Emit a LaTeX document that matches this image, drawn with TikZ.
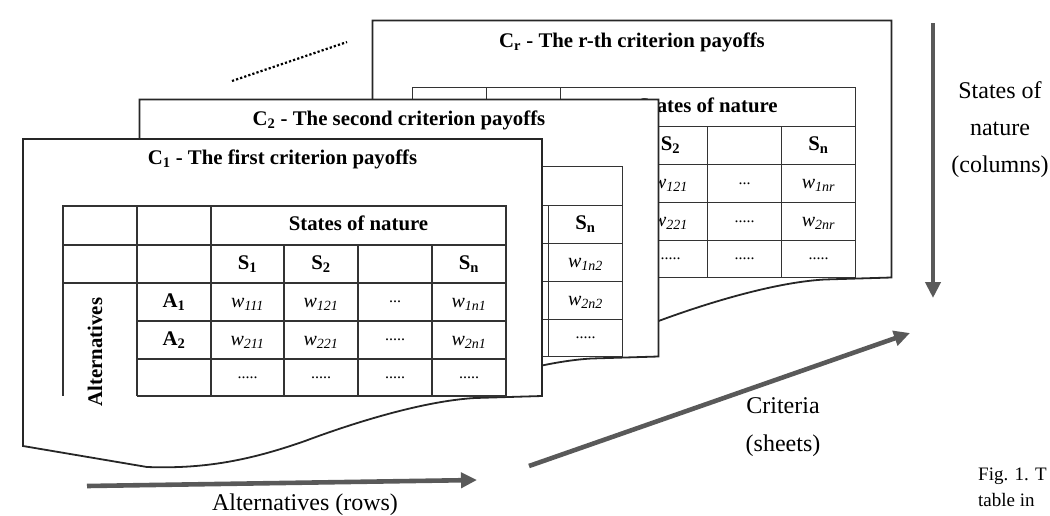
\documentclass[tikz,border=0pt]{standalone}
\usepackage{fontspec}
\setmainfont{Liberation Serif}
\usetikzlibrary{positioning,arrows.meta}

\tikzset{
  sheet/.style={draw=black!85, line width=1.8pt, fill=white},
  tablegrid/.style={draw=black!80, line width=1.2pt},
  sheettitle/.style={font=\fontsize{20.8}{25}\selectfont\bfseries, inner sep=0pt},
  headcell/.style={font=\fontsize{20.8}{25}\selectfont\bfseries, inner sep=0pt, text height=14pt, text depth=4pt},
  wcell/.style={font=\fontsize{20}{24}\selectfont\itshape, inner sep=0pt, text height=14pt, text depth=4pt},
  dotcell/.style={font=\fontsize{16}{20}\selectfont, inner sep=0pt},
  axistext/.style={font=\fontsize{24}{29}\selectfont, inner sep=0pt, anchor=base},
  captext/.style={font=\fontsize{19}{24}\selectfont, inner sep=0pt, anchor=base west},
  bigarrow/.style={draw=black!65, line width=4.6pt, -{Triangle[length=16pt, width=15pt]}},
  dotline/.style={line width=2.2pt, dash pattern=on 2.2pt off 2.1pt},
}

% one sheet of paper, top left corner at (0,0)
\newcommand{\sheetoutline}{%
  \draw[sheet] (0,0) -- (519,0) -- (519,257) -- (452,259)
    .. controls (400,262) and (330,284) .. (282,302)
    .. controls (225,322) and (180,330) .. (124,328)
    -- (0,307) -- cycle;}
% the payoff table on it
\newcommand{\sheetgrid}{%
  \draw[tablegrid] (114,257) -- (483,257) -- (483,67) -- (40,67) -- (40,257);
  \draw[tablegrid] (40,106) -- (483,106) (40,144) -- (483,144)
                   (114,182) -- (483,182) (114,220) -- (483,220);
  \draw[tablegrid] (114,67) -- (114,257) (188,67) -- (188,257);
  \foreach \cx in {261,335,409}
    \draw[tablegrid] (\cx,106) -- (\cx,257);}

\begin{document}
\begin{tikzpicture}[x=1pt, y=-1pt]
  \useasboundingbox (0,0) rectangle (1050,515);

  % C_r, the last sheet
  \begin{scope}[shift={(372.5,20.5)}]
    \sheetoutline
    \sheetgrid
    \node[sheettitle] (r-title) at (259.5,22) {C\textsubscript{r} - The r-th criterion payoffs};
    \node[headcell] (r-head) at (335.5,86.5) {States of nature};
    \node[headcell] (r-s2) at (298,125) {S\textsubscript{2}};
    \node[headcell] (r-sn) at (446,125) {S\textsubscript{n}};
    \node[wcell] (r-w121) at (298,163) {w\textsubscript{121}};
    \node[dotcell] (r-d12) at (372,163) {...};
    \node[wcell] (r-w1nr) at (446,163) {w\textsubscript{1nr}};
    \node[wcell] (r-w221) at (298,201) {w\textsubscript{221}};
    \node[dotcell] (r-d22) at (372,201) {.....};
    \node[wcell] (r-w2nr) at (446,201) {w\textsubscript{2nr}};
    \foreach \cx [count=\i] in {298,372,446}
      \node[dotcell] (r-d3\i) at (\cx,238.5) {.....};
  \end{scope}

  % C_2
  \begin{scope}[shift={(139.5,99.5)}]
    \sheetoutline
    \sheetgrid
    \node[sheettitle] (two-title) at (259.5,21) {C\textsubscript{2} - The second criterion payoffs};
    \node[headcell] (two-sn) at (446,125) {S\textsubscript{n}};
    \node[wcell] (two-w1n2) at (446,163) {w\textsubscript{1n2}};
    \node[wcell] (two-w2n2) at (446,201) {w\textsubscript{2n2}};
    \node[dotcell] (two-d3) at (446,238.5) {.....};
  \end{scope}

  % C_1, the front sheet
  \begin{scope}[shift={(23,139)}]
    \sheetoutline
    \sheetgrid
    \node[sheettitle] (one-title) at (259.5,20) {C\textsubscript{1} - The first criterion payoffs};
    \node[headcell] (one-head) at (335.5,86.5) {States of nature};
    \node[headcell] (one-s1) at (224.5,125) {S\textsubscript{1}};
    \node[headcell] (one-s2) at (298,125) {S\textsubscript{2}};
    \node[headcell] (one-sn) at (446,125) {S\textsubscript{n}};
    \node[headcell, rotate=90] (one-alt) at (74,213) {Alternatives};
    \node[headcell] (one-a1) at (151,163) {A\textsubscript{1}};
    \node[headcell] (one-a2) at (151,201) {A\textsubscript{2}};
    \node[wcell] (one-w111) at (224.5,163) {w\textsubscript{111}};
    \node[wcell] (one-w121) at (298,163) {w\textsubscript{121}};
    \node[dotcell] (one-d12) at (372,163) {...};
    \node[wcell] (one-w1n1) at (446,163) {w\textsubscript{1n1}};
    \node[wcell] (one-w211) at (224.5,201) {w\textsubscript{211}};
    \node[wcell] (one-w221) at (298,201) {w\textsubscript{221}};
    \node[dotcell] (one-d22) at (372,201) {.....};
    \node[wcell] (one-w2n1) at (446,201) {w\textsubscript{2n1}};
    \foreach \cx [count=\i] in {224.5,298,372,446}
      \node[dotcell] (one-d3\i) at (\cx,238.5) {.....};
  \end{scope}

  % more sheets in between
  \coordinate (gapa) at (232,81);
  \coordinate (gapb) at (347,42);
  \draw[dotline] (gapa) -- (gapb);

  % the three directions
  \coordinate (altfrom) at (87,486);
  \coordinate (altto) at (477,480);
  \coordinate (critfrom) at (529,466);
  \coordinate (critto) at (910,333);
  \coordinate (statefrom) at (933,23);
  \coordinate (stateto) at (933,298);
  \draw[bigarrow] (altfrom) -- (altto);
  \draw[bigarrow] (critfrom) -- (critto);
  \draw[bigarrow] (statefrom) -- (stateto);

  \node[axistext] (altlabel) at (305,510) {Alternatives (rows)};
  \node[axistext] (critlabel) at (783,413) {Criteria};
  \node[axistext] (sheetlabel) at (783,451) {(sheets)};
  \node[axistext] (stateslabel) at (1000,98) {States of};
  \node[axistext] (naturelabel) at (1000,135) {nature};
  \node[axistext] (colslabel) at (1000,172) {(columns)};

  \node[captext] (figline) at (978,480) {Fig. 1. T};
  \node[captext] (tableline) at (978,506) {table in};
\end{tikzpicture}
\end{document}
